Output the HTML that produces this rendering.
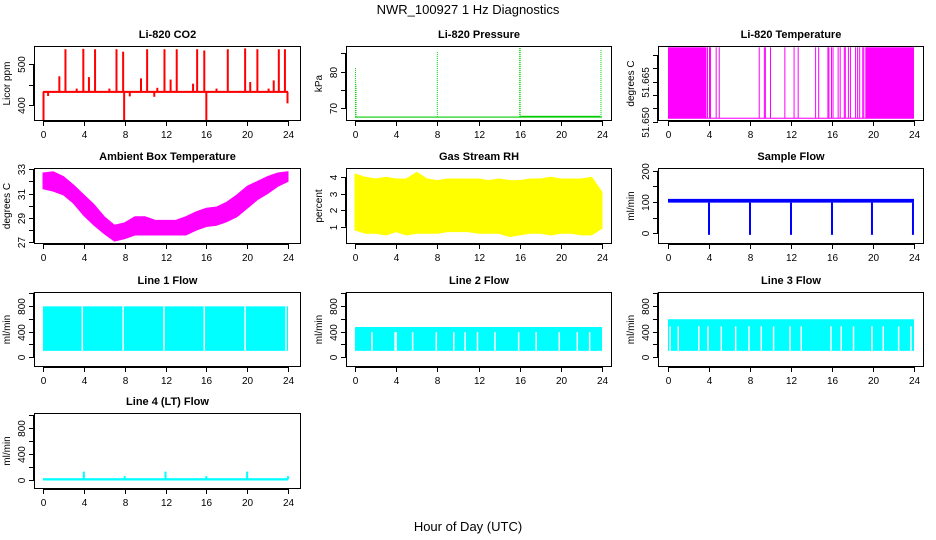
<!DOCTYPE html>
<html><head><meta charset="utf-8"><title>NWR_100927 1 Hz Diagnostics</title>
<style>
html,body{margin:0;padding:0;background:#fff;}
svg{display:block;font-family:"Liberation Sans",Arial,sans-serif;}
</style></head>
<body>
<svg id="chart" width="936" height="540" viewBox="0 0 936 540" xmlns="http://www.w3.org/2000/svg">
<rect width="936" height="540" fill="#fff"/>
<text x="468" y="14" text-anchor="middle" font-size="13">NWR_100927  1 Hz Diagnostics</text>
<text x="468" y="531" text-anchor="middle" font-size="13">Hour of Day (UTC)</text>
</svg>
<script>
// ---- data ----
var xTicks = [0,4,8,12,16,20,24];
var co2Baseline = 432;
var co2SpikeTimes = [1.6,2.2,3.3,3.95,4.5,5.1,6.5,7.2,7.85,9.6,10.2,11.2,11.9,12.5,13.1,14.7,15.1,15.8,17.0,18.1,19.8,20.3,21.0,22.1,22.6,23.1,23.7];
var co2SpikeValues = [470,536,440,537,468,536,440,536,530,465,536,442,536,462,536,452,536,533,440,536,538,456,536,440,460,536,536];
var co2DipTimes = [0.05,0.5,7.95,8.5,10.9,16.0,23.95];
var co2DipValues = [363,422,363,421,420,360,404];
var presBaseline = 67.6;
var presSpikeTimes = [0.05,0.1,8.0,16.0,16.05,23.9];
var presSpikeValues = [81,76.5,85.5,86.5,86.5,86];
var tempLow = 51.6513, tempHigh = 51.6779;
var tempBlockStarts = [0,19.25];
var tempBlockEnds = [3.75,24];
var tempLineTimes = [3.85,4.05,4.15,4.7,5.0,8.9,9.4,9.5,10.0,11.4,12.3,12.7,14.4,14.7,15.6,15.7,15.95,16.1,16.6,16.8,17.2,17.3,17.6,17.8,18.3,18.5,18.7,19.0,19.1];
var hours = [0,1,2,3,4,5,6,7,8,9,10,11,12,13,14,15,16,17,18,19,20,21,22,23,24];
var ambMax = [32.7,32.8,32.4,31.7,30.9,30.1,29.1,28.4,28.6,29.1,29.1,28.8,28.8,28.8,29.1,29.5,29.8,29.9,30.3,30.9,31.6,32.0,32.4,32.7,32.8];
var ambMin = [31.4,31.2,30.9,30.2,29.2,28.4,27.7,27.1,27.3,27.6,27.6,27.6,27.6,27.6,27.6,28.0,28.3,28.4,28.7,29.1,29.8,30.5,31.0,31.6,32.0];
var rhMin = [0.8,0.6,0.6,0.5,0.7,0.5,0.6,0.6,0.6,0.7,0.7,0.7,0.6,0.6,0.6,0.4,0.5,0.6,0.6,0.5,0.6,0.6,0.5,0.5,0.9];
var rhMax = [4.2,4.0,3.9,4.0,3.9,3.9,4.3,3.9,3.8,3.9,3.9,3.9,3.9,3.8,3.9,3.8,3.8,3.9,3.9,4.0,3.9,3.9,3.9,4.0,3.1];
var sampleLow = 98, sampleHigh = 110;
var sampleDropTimes = [4,8,12,16,19.9,23.9];
var sampleDropValues = [-5,-5,-5,-5,-5,-5];
var line1Low = 100, line1High = 790;
var line1Gaps = [3.85,7.85,11.85,15.8,19.8,23.8];
var line2Low = 100, line2High = 470, line2GapTop = 390;
var line2Gaps = [1.65,3.9,4.0,5.6,7.9,9.6,10.7,11.9,13.6,15.9,17.6,19.85,21.6,22.8];
var line3Low = 100, line3High = 590, line3GapTop = 480;
var line3Gaps = [0.2,1.0,3.0,3.9,5.2,6.6,7.9,9.1,10.3,11.9,13.0,15.9,16.9,18.1,19.9,21.0,22.5,23.7];
var line4Base = 10;
var line4SpikeTimes = [4,8,12,16,20,24];
var line4SpikeValues = [130,60,130,60,130,60];

// ---- layout ----
var NS = "http://www.w3.org/2000/svg";
var svg = document.getElementById('chart');
var colBoxL = [34,346,658], colBoxR = [301,612,924];
var colX0 = [43,355,668], colX24 = [288,602,914];
var rowBoxT = [46,168,292,413], rowBoxB = [121,244,367,489];

function mk(tag, attrs, parent){
  var e = document.createElementNS(NS, tag);
  for (var k in attrs) e.setAttribute(k, attrs[k]);
  (parent||svg).appendChild(e);
  return e;
}

function panel(name, title, ylab, col, row, ref, ticks, labels){
  var g = mk('g', {});
  
  
  var xs = function(h){ return colX0[col] + h*(colX24[col]-colX0[col])/24; };
  var ys = function(v){ return ref[1] + (v-ref[0])*(ref[3]-ref[1])/(ref[2]-ref[0]); };
  var L = colBoxL[col], R = colBoxR[col], T = rowBoxT[row], B = rowBoxB[row];
  var t = mk('text', {x:(L+R)/2, y:T-8, 'text-anchor':'middle', 'font-size':11, 'font-weight':'bold'}, g);
  t.textContent = title;
  
  
  var yl = mk('text', {x:0, y:0, 'text-anchor':'middle', 'font-size':10, transform:'translate('+(L-24)+','+((T+B)/2)+') rotate(-90)'}, g);
  yl.textContent = ylab;
  
  
  var plot = mk('g', {}, g);
  
  
  var frame = mk('g', {stroke:'#000', 'stroke-width':1, fill:'none'}, g);
  
  
  mk('rect', {x:L+0.5, y:T+0.5, width:R-L-1, height:B-T-1}, frame);
  mk('line', {x1:xs(0), x2:xs(24), y1:B+0.5, y2:B+0.5}, frame);
  xTicks.forEach(function(h){
    var x = Math.round(xs(h))+0.5;
    mk('line', {x1:x, x2:x, y1:B, y2:B+5}, frame);
    var tl = mk('text', {x:x, y:B+17, 'text-anchor':'middle', 'font-size':10, fill:'#000', stroke:'none'}, g);
    tl.textContent = String(h);
    
    
  });
  ticks.forEach(function(v, i){
    var y = Math.round(ys(v))+0.5;
    mk('line', {x1:L-5, x2:L, y1:y, y2:y}, frame);
    if (labels[i]) {
      var tl = mk('text', {x:0, y:0, 'text-anchor':'middle', 'font-size':10, fill:'#000', stroke:'none', transform:'translate('+(L-9)+','+y+') rotate(-90)'}, g);
      tl.textContent = labels[i];
      
      
    }
  });
  mk('line', {x1:L-0.5, x2:L-0.5, y1:ys(ticks[0]), y2:ys(ticks[ticks.length-1])}, frame);
  return {g:plot, xs:xs, ys:ys};
}

function vline(p, x, y1, y2, color, w, name, dash){
  var a = {x1:x, x2:x, y1:y1, y2:y2, stroke:color, 'stroke-width':w||1};
  if (dash) a['stroke-dasharray'] = dash;
  var l = mk('line', a, p.g);
  
  
  return l;
}
function band(p, h0, h1, v0, v1, color, name){
  var x0 = p.xs(h0), x1 = p.xs(h1), ya = p.ys(v0), yb = p.ys(v1);
  var r = mk('rect', {x:Math.min(x0,x1), y:Math.min(ya,yb), width:Math.abs(x1-x0), height:Math.max(1,Math.abs(yb-ya)), fill:color}, p.g);
  
  
  return r;
}
function envelope(p, hs, lo, hi, color, name){
  var pts = [];
  for (var i=0;i<hs.length;i++) pts.push(p.xs(hs[i])+','+p.ys(hi[i]));
  for (var j=hs.length-1;j>=0;j--) pts.push(p.xs(hs[j])+','+p.ys(lo[j]));
  var poly = mk('polygon', {points:pts.join(' '), fill:color, stroke:color, 'stroke-width':1}, p.g);
  
  
}

// CO2
var p1 = panel('co2','Li-820 CO2','Licor ppm',0,0,[400,105,500,64],[400,450,500],['400','','500']);
band(p1, 0, 24, co2Baseline-2.5, co2Baseline+2.5, '#ff0000', 'co2-baseline');
co2SpikeTimes.forEach(function(h,i){ vline(p1, p1.xs(h), p1.ys(co2Baseline), p1.ys(co2SpikeValues[i]), '#ff0000', 2, 'co2-spike'); });
co2DipTimes.forEach(function(h,i){ vline(p1, p1.xs(h), p1.ys(co2Baseline), p1.ys(co2DipValues[i]), '#ff0000', 2, 'co2-dip'); });

// Pressure
var p2 = panel('pressure','Li-820 Pressure','kPa',1,0,[70,108.3,80,71.7],[70,75,80,85],['70','','80','']);
band(p2, 0, 24, presBaseline-0.15, presBaseline+0.15, '#00cc00', 'pressure-baseline');
band(p2, 16, 23.8, presBaseline+0.1, presBaseline+0.35, '#00cc00', 'pressure-step');
presSpikeTimes.forEach(function(h,i){ vline(p2, p2.xs(h), p2.ys(presBaseline), p2.ys(presSpikeValues[i]), '#00cc00', 1, 'pressure-spike', '1,1'); });

// Li-820 temperature
var p3 = panel('licor-temp','Li-820 Temperature','degrees C',2,0,[51.65,121.7,51.675,55],[51.65,51.655,51.66,51.665,51.67,51.675],['51.650','','','51.665','','']);
band(p3, 0, 24, tempLow-0.0002, tempLow+0.0002, '#ff00ff', 'licor-temp-low-line');
tempBlockStarts.forEach(function(h,i){ band(p3, h, tempBlockEnds[i], tempLow, tempHigh, '#ff00ff', 'licor-temp-block'); });
tempLineTimes.forEach(function(h){ vline(p3, p3.xs(h), p3.ys(tempLow), p3.ys(tempHigh), '#ff00ff', 1, 'licor-temp-toggle'); });

// Ambient
var p4 = panel('ambient','Ambient Box Temperature','degrees C',0,1,[27,242.3,33,169.3],[27,28,29,30,31,32,33],['27','','29','','31','','33']);
envelope(p4, hours, ambMin, ambMax, '#ff00ff', 'ambient-temp-band');

// RH
var p5 = panel('rh','Gas Stream RH','percent',1,1,[1,226.7,4,177.3],[1,2,3,4],['1','2','3','4']);
envelope(p5, hours, rhMin, rhMax, '#ffff00', 'rh-band');

// Sample flow
var p6 = panel('sample','Sample Flow','ml/min',2,1,[0,233.3,200,170.7],[0,50,100,150,200],['0','','100','','200']);
band(p6, 0, 24, sampleLow, sampleHigh, '#0000ff', 'sample-flow-band');
sampleDropTimes.forEach(function(h,i){ vline(p6, p6.xs(h), p6.ys(sampleLow), p6.ys(sampleDropValues[i]), '#0000ff', 2, 'sample-flow-drop'); });

// Line flows
var lt = [0,200,400,600,800,1000], ll = ['0','','400','','800',''];
var p7 = panel('line1','Line 1 Flow','ml/min',0,2,[0,357.3,800,305.7],lt,ll);
band(p7, 0, 24, line1Low, line1High, '#00ffff', 'line1-band');
line1Gaps.forEach(function(h){ vline(p7, p7.xs(h), p7.ys(line1Low), p7.ys(line1High), '#ffffff', 1.5, 'line1-gap'); });
var p8 = panel('line2','Line 2 Flow','ml/min',1,2,[0,357.3,800,305.7],lt,ll);
band(p8, 0, 24, line2Low, line2High, '#00ffff', 'line2-band');
line2Gaps.forEach(function(h){ vline(p8, p8.xs(h), p8.ys(line2Low), p8.ys(line2GapTop), '#ffffff', 1.5, 'line2-gap'); });
var p9 = panel('line3','Line 3 Flow','ml/min',2,2,[0,357.3,800,305.7],lt,ll);
band(p9, 0, 24, line3Low, line3High, '#00ffff', 'line3-band');
line3Gaps.forEach(function(h){ vline(p9, p9.xs(h), p9.ys(line3Low), p9.ys(line3GapTop), '#ffffff', 1.5, 'line3-gap'); });
var p10 = panel('line4','Line 4 (LT) Flow','ml/min',0,3,[0,480,800,428.3],lt,ll);
band(p10, 0, 24, line4Base-18, line4Base+18, '#00ffff', 'line4-baseline');
line4SpikeTimes.forEach(function(h,i){ vline(p10, p10.xs(h), p10.ys(line4Base), p10.ys(line4SpikeValues[i]), '#00ffff', 2, 'line4-spike'); });
</script>
</body></html>
